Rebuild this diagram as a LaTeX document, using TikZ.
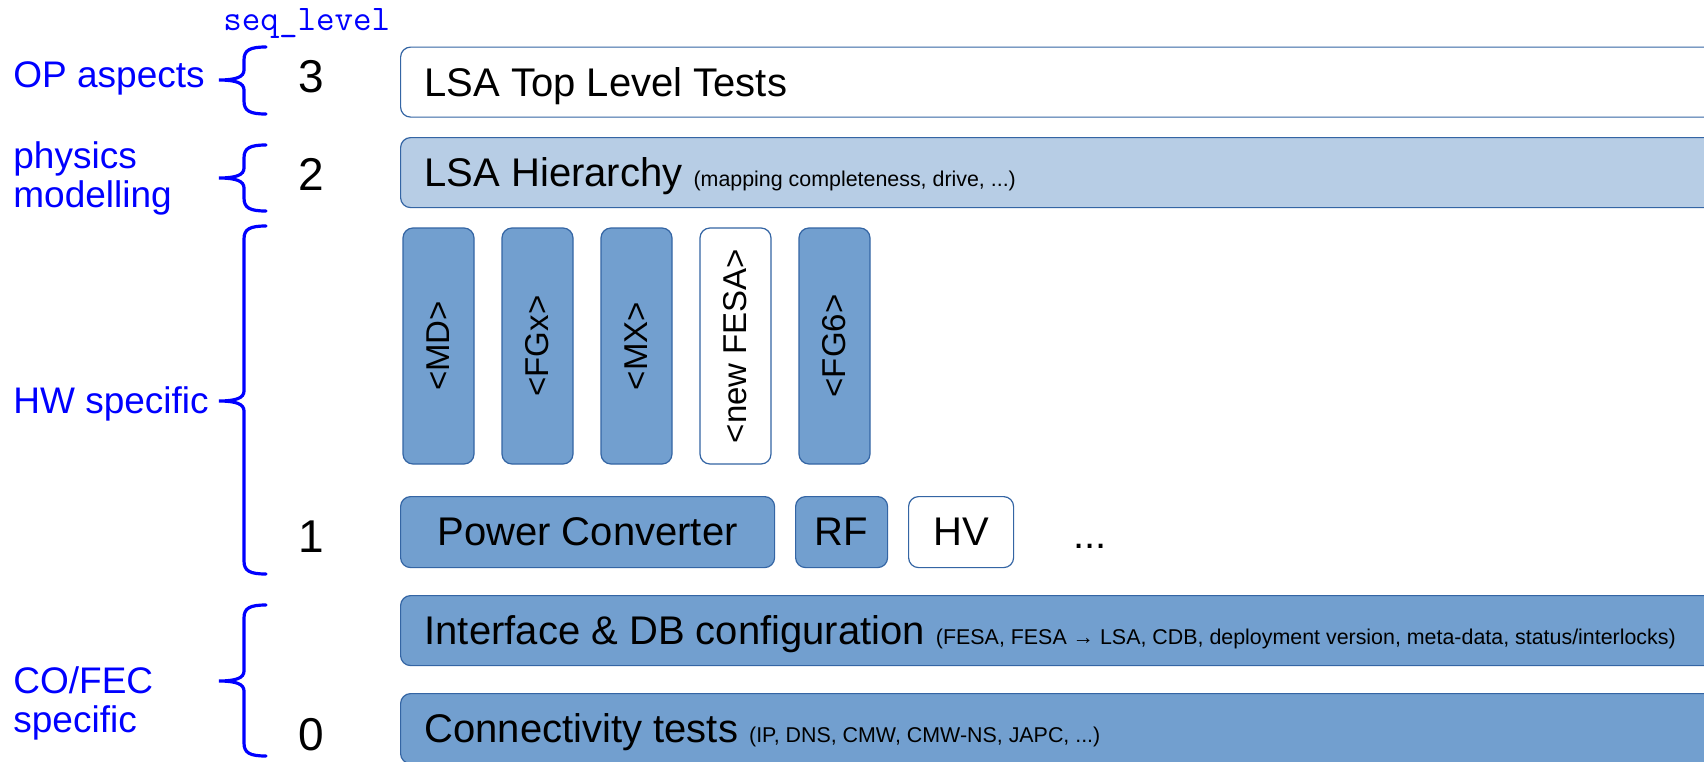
\documentclass[tikz,border=0pt]{standalone}
\usepackage{fontspec}
\setmainfont{Liberation Sans}

\definecolor{boxblue}{RGB}{114,159,207}
\definecolor{lightbar}{RGB}{183,205,229}
\definecolor{edgeblue}{RGB}{52,101,164}

\newcommand{\boxfont}{\fontsize{20pt}{24pt}\selectfont}
\newcommand{\notefont}{\fontsize{10.7pt}{13pt}\selectfont}

% curly brace: top end, tip, bottom end (pixel rows)
\newcommand{\levelbrace}[3]{%
  \draw [bracepath]
    (266,#1)
      .. controls (250,#1) and (244,#1+3)
    .. (244,#1+13)
    -- (244,#2-10)
      .. controls (244,#2-3) and (236,#2)
    .. (219,#2)
      .. controls (236,#2) and (244,#2+3)
    .. (244,#2+10)
    -- (244,#3-13)
      .. controls (244,#3-3) and (250,#3)
    .. (266,#3)
  ;
}

\tikzset{
  layerbar/.style={draw=edgeblue, line width=0.6pt, rounded corners=5pt,
    anchor=north west, minimum height=35pt, text width=666pt,
    text height=14.5pt, text depth=0.5pt,
    inner xsep=12pt, inner ysep=0pt, align=flush left, font=\boxfont},
  hwbox/.style={draw=edgeblue, line width=0.6pt, fill=boxblue,
    rounded corners=5pt, minimum height=35.5pt, inner sep=0pt, font=\boxfont},
  fesabox/.style={hwbox, rotate=90, minimum width=118pt,
    font=\fontsize{16.5pt}{19pt}\selectfont},
  sidelabel/.style={text=blue, inner sep=0pt, align=flush left,
    font=\fontsize{18.5pt}{19.5pt}\selectfont},
  levelnum/.style={anchor=base, inner sep=0pt,
    font=\fontsize{23pt}{27pt}\selectfont},
  bracepath/.style={blue, line width=1.6pt, line cap=round}
}

\begin{document}
\begin{tikzpicture}[x=0.5pt, y=-0.5pt]
  \useasboundingbox (0,0) rectangle (1704,761);
  \fill [white] (0,0) rectangle (1704,761);
  \clip (0,0) rectangle (1704,761);

  % layer bars
  \node (toplevel) [layerbar, fill=white] at (400,46.5)
    {LSA Top Level Tests};
  \node (hierarchy) [layerbar, fill=lightbar] at (400,137)
    {LSA Hierarchy {\notefont (mapping completeness, drive, ...)}};
  \node (interface) [layerbar, fill=boxblue] at (400,595)
    {Interface \& DB configuration {\notefont (FESA, FESA → LSA, CDB, deployment version, meta-data, status/interlocks)}};
  \node (connect) [layerbar, fill=boxblue] at (400,693)
    {Connectivity tests {\notefont (IP, DNS, CMW, CMW-NS, JAPC, ...)}};

  % device classes
  \foreach \name/\txt/\shade [count=\i from 0] in
      {md/{<MD>}/boxblue, fgx/{<FGx>}/boxblue, mx/{<MX>}/boxblue,
       newfesa/{<new FESA>}/white, fgsix/{<FG6>}/boxblue}
    \node (\name) [fesabox, fill=\shade] at (438.5+99*\i,346) {\txt};

  % HW systems
  \node (pc) [hwbox, anchor=north west, minimum width=187pt] at (400,496)
    {Power Converter};
  \node (rf) [hwbox, anchor=north west, minimum width=46pt] at (795,496)
    {RF};
  \node (hv) [hwbox, anchor=north west, minimum width=52.5pt, fill=white]
    at (908,496) {HV};
  \node (more) [anchor=base, inner sep=0pt, font=\boxfont] at (1090,548) {...};

  % levels
  \node (seqlevel) [anchor=base west, inner sep=0pt, text=blue,
    font=\ttfamily\fontsize{18pt}{20pt}\selectfont] at (223,30) {seq\_level};
  \node (lvthree) [levelnum] at (311,92) {3};
  \node (lvtwo) [levelnum] at (311,190) {2};
  \node (lvone) [levelnum] at (311,552) {1};
  \node (lvzero) [levelnum] at (311,750) {0};

  % aspects
  \node (opaspects) [sidelabel, anchor=base west] at (13,87) {OP aspects};
  \node (physics) [sidelabel, anchor=north west] at (13,141.5) {physics\\modelling};
  \node (hwspecific) [sidelabel, anchor=base west] at (13,413) {HW specific};
  \node (cofec) [sidelabel, anchor=north west] at (13,666.5) {CO/FEC\\specific};

  \levelbrace{47}{80}{114}
  \levelbrace{145}{178}{211}
  \levelbrace{226}{401}{574}
  \levelbrace{605}{681}{756}
\end{tikzpicture}
\end{document}
